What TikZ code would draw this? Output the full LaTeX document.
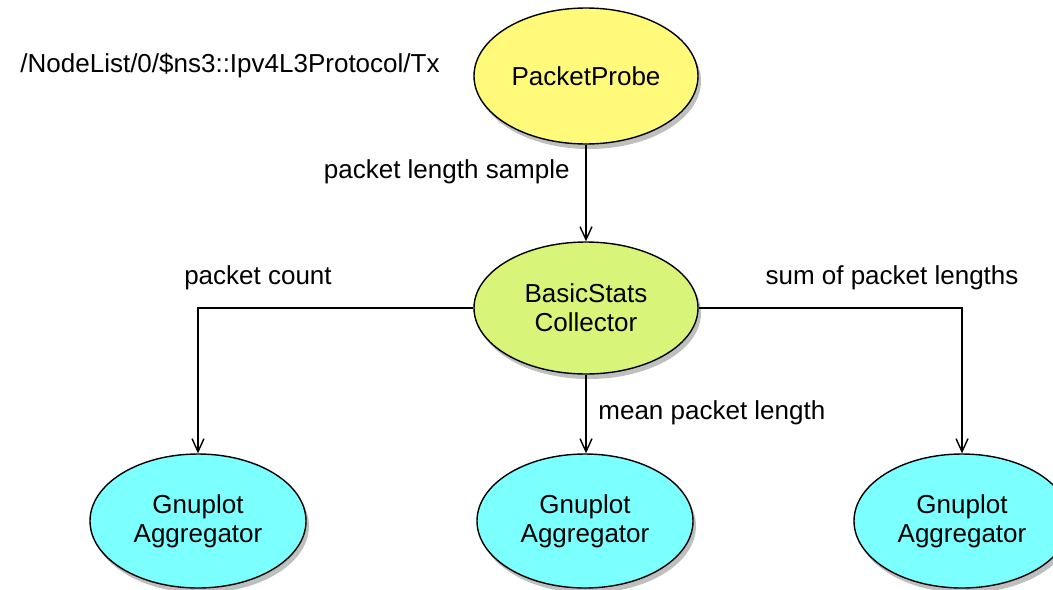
\documentclass[tikz,border=0pt]{standalone}
\usepackage{fontspec}
\setmainfont{Liberation Sans}
\usetikzlibrary{shapes.geometric, arrows.meta, shadows}

\definecolor{probeyellow}{RGB}{255,250,122}
\definecolor{collgreen}{RGB}{216,245,122}
\definecolor{aggcyan}{RGB}{124,255,255}

\tikzset{
    blob/.style={ellipse, draw=black, line width=0.7pt, align=center,
        font=\fontsize{13}{14.6}\selectfont, inner sep=0pt,
        drop shadow={shadow xshift=1.5pt, shadow yshift=-2.5pt, opacity=0.25, fill=black}},
    lbl/.style={font=\fontsize{13}{14}\selectfont, inner sep=0pt},
    link/.style={line width=0.7pt, -{Straight Barb[length=6.5pt,width=6pt,line width=0.7pt]}}
}

\begin{document}
\begin{tikzpicture}[x=0.5pt, y=-0.5pt]
        \useasboundingbox (0,0) rectangle (1053,589);
        \draw (586,76)  node[blob, fill=probeyellow, minimum width=112pt, minimum height=68pt] (probe) {PacketProbe};
        \draw (586,308) node[blob, fill=collgreen, minimum width=112pt, minimum height=66pt] (coll) {BasicStats\\Collector};
        \draw (198,521) node[blob, fill=aggcyan, minimum width=108pt, minimum height=67pt] (aggl) {Gnuplot\\Aggregator};
        \draw (585,521) node[blob, fill=aggcyan, minimum width=108pt, minimum height=67pt] (aggm) {Gnuplot\\Aggregator};
        \draw (962,521) node[blob, fill=aggcyan, minimum width=108pt, minimum height=67pt] (aggr) {Gnuplot\\Aggregator};
        \node[lbl] (path) at (230,66) {/NodeList/0/\$ns3::Ipv4L3Protocol/Tx};
        \node[lbl, anchor=east] (sample) at (570,172) {packet length sample};
        \node[lbl] (count) at (258,278) {packet count};
        \node[lbl] (sum) at (892,278) {sum of packet lengths};
        \node[lbl, anchor=west] (mean) at (598,413) {mean packet length};
        \draw[link] (probe) -- (coll);
        \draw[link] (coll.west) -| (aggl.north);
        \draw[link] (coll) -- (coll |- aggm.north);
        \draw[link] (coll.east) -| (aggr.north);
    \end{tikzpicture}
\end{document}
